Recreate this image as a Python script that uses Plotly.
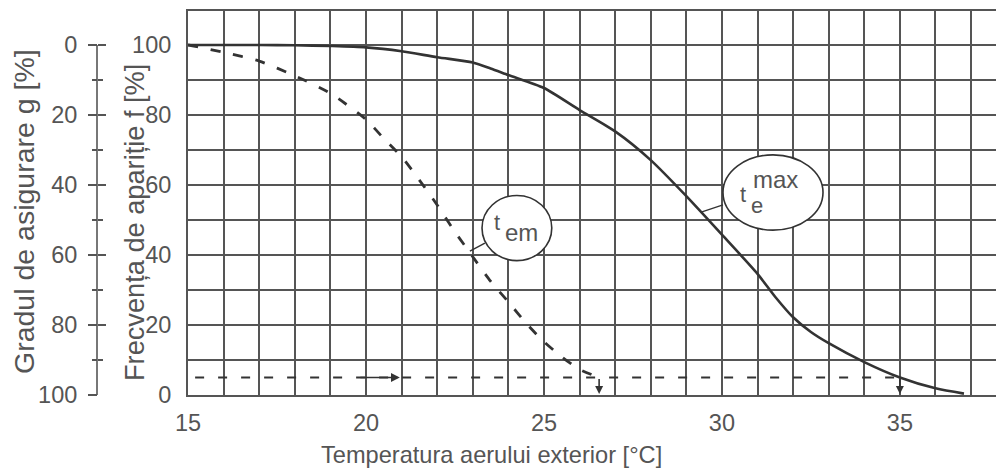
import plotly.graph_objects as go

# Outdoor air temperature [°C] and frequency of occurrence f [%]
temp_max = [15, 16, 17, 18, 19, 20, 21, 22, 23, 23.5, 24, 25, 26, 27, 28, 29,
            30, 31, 31.5, 32, 32.5, 33, 34, 35, 36, 36.8]
freq_max = [100, 100, 100, 99.9, 99.7, 99.3, 98.2, 96.5, 95.0, 93.3, 91.4,
            87.7, 81.4, 75.3, 67.1, 56.8, 45.8, 34.6, 28.0, 22.2, 18.0, 14.8,
            9.4, 5.0, 1.9, 0.4]

temp_em = [15, 16, 17, 18, 19, 20, 20.5, 21, 21.5, 22, 22.5, 23, 23.5, 24,
           24.5, 25, 25.5, 26, 26.55]
freq_em = [100, 97.9, 95.4, 91.2, 86.2, 78.7, 73.3, 68.1, 61.4, 54.3, 46.6,
           39.5, 32.5, 26.6, 20.5, 15.2, 10.9, 7.3, 5.0]

# Degree of assurance g [%] used for the design temperatures
g_level = 95
t_em_design = 26.55
t_max_design = 35

x_ticks = list(range(15, 38))
x_labels = [str(v) if v % 5 == 0 else "" for v in x_ticks]
f_ticks = list(range(0, 101, 10))
f_labels = [str(v) if v % 20 == 0 else "" for v in f_ticks]
g_major = [0, 20, 40, 60, 80, 100]
g_minor = [10, 30, 50, 70, 90]

INK = "#333333"
GRID = "#555555"
TEXT = "#555555"
FONT = "Liberation Sans, Arial, sans-serif"

F_TOP = 109.7          # upper limit of the f scale
G_POS = 97 / 996       # paper position of the g scale

fig = go.Figure()

fig.add_trace(go.Scatter(
    x=temp_max, y=freq_max, mode="lines",
    line=dict(color=INK, width=2.6, shape="spline", smoothing=0.7),
    hoverinfo="skip", showlegend=False))

fig.add_trace(go.Scatter(
    x=temp_em, y=freq_em, mode="lines",
    line=dict(color=INK, width=2.8, dash="10px,13px", shape="spline", smoothing=0.6),
    hoverinfo="skip", showlegend=False))

# g = 95 % level, drawn against the g scale
fig.add_trace(go.Scatter(
    x=[15.2, t_max_design], y=[g_level, g_level], yaxis="y2", mode="lines",
    line=dict(color=INK, width=2, dash="9px,14px"),
    hoverinfo="skip", showlegend=False))
fig.add_trace(go.Scatter(
    x=[None], y=[None], yaxis="y3", mode="lines",
    hoverinfo="skip", showlegend=False))

f_level = 100 - g_level

annotations = [
    # arrows along the 95 % level and down to the design temperatures
    dict(x=20.95, y=f_level, ax=19.8, ay=f_level, xref="x", yref="y",
         axref="x", ayref="y", showarrow=True, arrowhead=2, arrowsize=1.1,
         arrowwidth=1.6, arrowcolor=INK, text=""),
    dict(x=t_em_design, y=0.3, ax=t_em_design, ay=f_level, xref="x", yref="y",
         axref="x", ayref="y", showarrow=True, arrowhead=2, arrowsize=1.0,
         arrowwidth=1.6, arrowcolor=INK, text=""),
    dict(x=t_max_design, y=0.3, ax=t_max_design, ay=f_level, xref="x", yref="y",
         axref="x", ayref="y", showarrow=True, arrowhead=2, arrowsize=1.0,
         arrowwidth=1.6, arrowcolor=INK, text=""),
    # curve labels
    dict(x=23.68, y=49.3, xref="x", yref="y", text="t", showarrow=False,
         font=dict(family=FONT, size=22, color=TEXT)),
    dict(x=24.36, y=46.3, xref="x", yref="y", text="em", showarrow=False,
         font=dict(family=FONT, size=24, color=TEXT)),
    dict(x=30.6, y=57.3, xref="x", yref="y", text="t", showarrow=False,
         font=dict(family=FONT, size=22, color=TEXT)),
    dict(x=31.5, y=61.6, xref="x", yref="y", text="max", showarrow=False,
         font=dict(family=FONT, size=24, color=TEXT)),
    dict(x=30.98, y=54.0, xref="x", yref="y", text="e", showarrow=False,
         font=dict(family=FONT, size=22, color=TEXT)),
    # axis titles
    dict(x=491 / 996, y=-(455 - 395) / 384, xref="paper", yref="paper",
         text="Temperatura aerului exterior [°C]", showarrow=False,
         xanchor="center", yanchor="middle",
         font=dict(family=FONT, size=23.6, color=TEXT)),
    dict(x=135 / 996, y=(395 - 223) / 384, xref="paper", yref="paper",
         text="Frecvența de apariție f [%]", textangle=-90, showarrow=False,
         xanchor="center", yanchor="middle",
         font=dict(family=FONT, size=27.2, color=TEXT)),
    dict(x=24 / 996, y=(395 - 212) / 384, xref="paper", yref="paper",
         text="Gradul de asigurare g [%]", textangle=-90, showarrow=False,
         xanchor="center", yanchor="middle",
         font=dict(family=FONT, size=28.5, color=TEXT)),
]

shapes = [
    # label bubbles
    dict(type="circle", xref="x", yref="y", x0=23.26, x1=25.22, y0=38.4, y1=57.0,
         fillcolor="white", line=dict(color=INK, width=1.6), layer="above"),
    dict(type="circle", xref="x", yref="y", x0=30.03, x1=32.84, y0=47.1, y1=68.6,
         fillcolor="white", line=dict(color=INK, width=1.6), layer="above"),
    # leaders from bubbles to curves
    dict(type="line", xref="x", yref="y", x0=23.34, y0=43.4, x1=22.92, y1=41.1,
         line=dict(color=INK, width=1.4), layer="above"),
    dict(type="line", xref="x", yref="y", x0=30.03, y0=54.3, x1=29.44, y1=52.3,
         line=dict(color=INK, width=1.4), layer="above"),
    # g scale spine
    dict(type="line", xref="paper", yref="y2", x0=G_POS, x1=G_POS, y0=0, y1=100,
         line=dict(color=GRID, width=1.6)),
]

fig.update_layout(
    width=996, height=470,
    margin=dict(l=0, r=0, t=11, b=75, autoexpand=False),
    paper_bgcolor="white", plot_bgcolor="white",
    font=dict(family=FONT, color=TEXT),
    showlegend=False,
    xaxis=dict(
        domain=[188 / 996, 1], range=[15, 37.7],
        tickmode="array", tickvals=x_ticks, ticktext=x_labels,
        showgrid=True, gridcolor=GRID, gridwidth=1.7,
        showline=True, linecolor=GRID, linewidth=2, mirror=True,
        ticks="", zeroline=False, ticklabelstandoff=6,
        tickfont=dict(family=FONT, size=23.5, color=TEXT),
    ),
    yaxis=dict(
        range=[0, F_TOP],
        tickmode="array", tickvals=f_ticks, ticktext=f_labels,
        showgrid=True, gridcolor=GRID, gridwidth=1.7,
        showline=True, linecolor=GRID, linewidth=2,
        ticks="", zeroline=False, ticklabelstandoff=10,
        tickfont=dict(family=FONT, size=23.5, color=TEXT),
    ),
    yaxis2=dict(
        overlaying="y", anchor="free", position=G_POS, side="left",
        range=[100, 100 - F_TOP],
        tickmode="array", tickvals=g_major, ticktext=[str(v) for v in g_major],
        ticks="outside", ticklen=9, tickwidth=1.6, tickcolor=GRID,
        minor=dict(tickmode="array", tickvals=g_minor, ticks="outside",
                   ticklen=5, tickwidth=1.6, tickcolor=GRID, showgrid=False),
        showgrid=False, showline=False, zeroline=False, ticklabelstandoff=6,
        tickfont=dict(family=FONT, size=23.5, color=TEXT),
    ),
    yaxis3=dict(
        overlaying="y", anchor="free", position=G_POS, side="left",
        range=[100, 100 - F_TOP],
        tickmode="array", tickvals=g_major, showticklabels=False,
        ticks="inside", ticklen=8, tickwidth=1.6, tickcolor=GRID,
        minor=dict(tickmode="array", tickvals=g_minor, ticks="inside",
                   ticklen=5, tickwidth=1.6, tickcolor=GRID, showgrid=False),
        showgrid=False, showline=False, zeroline=False,
    ),
    annotations=annotations,
    shapes=shapes,
)

fig.write_html("out.html")
